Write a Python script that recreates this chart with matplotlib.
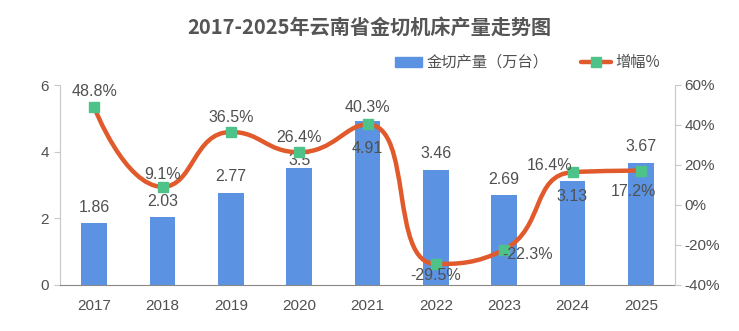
import numpy as np
import matplotlib.pyplot as plt
from matplotlib.path import Path
from matplotlib.patches import PathPatch

plt.rcParams['font.family'] = ['Liberation Sans', 'Noto Sans CJK SC', 'DejaVu Sans']

years = ['2017', '2018', '2019', '2020', '2021', '2022', '2023', '2024', '2025']
output = [1.86, 2.03, 2.77, 3.5, 4.91, 3.46, 2.69, 3.13, 3.67]
growth = [48.8, 9.1, 36.5, 26.4, 40.3, -29.5, -22.3, 16.4, 17.2]

# label offsets in pixels (dx, dy), picked to match the reference layout
bar_lbl_off = [16, 16, 16, 8, -27, 16, 16, -16, 16]
line_lbl_off = [(0, 16), (0, 12), (0, 14), (0, 15), (0, 17), (0, -12), (23, -5), (-23, 7), (-7, -21)]

BLUE = '#5B93E2'
RED = '#E05A2C'
GREEN = '#4EC389'
TXT = '#505050'
CJK = ['Noto Sans CJK SC', 'DejaVu Sans']


def clamp(v, a, b):
    return min(max(v, min(a, b)), max(a, b))


def smooth_path(xs, ys, yscale, smooth=0.5):
    # bezier smoothing with the same clamping rules echarts uses (in pixel-like units)
    px = list(xs)
    py = [v * yscale for v in ys]
    n = len(px)
    verts = [(px[0], py[0])]
    codes = [Path.MOVETO]
    cx0, cy0 = px[0], py[0]
    for i in range(1, n):
        x, y = px[i], py[i]
        prx, pry = px[i - 1], py[i - 1]
        if i == n - 1:
            cx1, cy1 = x, y
            ncx, ncy = x, y
        else:
            nx, ny = px[i + 1], py[i + 1]
            vx, vy = nx - prx, ny - pry
            lp = np.hypot(x - prx, y - pry)
            ln = np.hypot(nx - x, ny - y)
            r = ln / (ln + lp)
            ncx = clamp(x + vx * smooth * r, nx, x)
            ncy = clamp(y + vy * smooth * r, ny, y)
            vx, vy = ncx - x, ncy - y
            cx1 = clamp(x - vx * lp / ln, prx, x)
            cy1 = clamp(y - vy * lp / ln, pry, y)
            vx, vy = x - cx1, y - cy1
            ncx = x + vx * ln / lp
            ncy = y + vy * ln / lp
        verts += [(cx0, cy0), (cx1, cy1), (x, y)]
        codes += [Path.CURVE4] * 3
        cx0, cy0 = ncx, ncy
    verts = np.array(verts, dtype=float)
    verts[:, 1] /= yscale
    return Path(verts, codes)


fig = plt.figure(figsize=(7.39, 3.31), dpi=100)
ax = fig.add_axes([60 / 739, 46 / 331, 615 / 739, 200 / 331])
ax2 = ax.twinx()

x = np.arange(len(years))
ax.bar(x, output, width=0.38, color=BLUE, zorder=2)
ax.set_xlim(-0.5, len(years) - 0.5)
ax.set_ylim(0, 6)
ax.set_yticks([0, 2, 4, 6])
ax.set_xticks(x)
ax.set_xticklabels(years)
ax.tick_params(axis='x', length=0, pad=10, labelsize=11, labelcolor=TXT)
ax.tick_params(axis='y', length=4, color='#c8c8c8', pad=4, labelsize=11, labelcolor=TXT)
for sp in ['top', 'right']:
    ax.spines[sp].set_visible(False)
ax.spines['left'].set_color('#c8c8c8')
ax.spines['bottom'].set_color('#888888')

ax2.set_ylim(-40, 60)
ax2.set_yticks([-40, -20, 0, 20, 40, 60])
ax2.set_yticklabels([f'{v}%' for v in [-40, -20, 0, 20, 40, 60]])
ax2.tick_params(axis='y', length=4, color='#c8c8c8', pad=3, labelsize=11, labelcolor=TXT)
for sp in ['top', 'left', 'bottom']:
    ax2.spines[sp].set_visible(False)
ax2.spines['right'].set_color('#c8c8c8')

yscale = 2.0 / 68.33
path = smooth_path(x.astype(float), growth, yscale)
ax2.add_patch(PathPatch(path, fill=False, edgecolor=RED, lw=3.2, capstyle='round', zorder=3))
ax2.plot(x, growth, ls='none', marker='s', ms=6.5, mfc=GREEN, mec=GREEN, zorder=4)

k = 0.72
for i, v in enumerate(output):
    ax.annotate(f'{v:g}', (x[i], v), xytext=(0, bar_lbl_off[i] * k), textcoords='offset points',
                ha='center', va='center', fontsize=11.5, color=TXT, zorder=5)
for i, v in enumerate(growth):
    dx, dy = line_lbl_off[i]
    ax2.annotate(f'{v}%', (x[i], v), xytext=(dx * k, dy * k), textcoords='offset points',
                 ha='center', va='center', fontsize=11.5, color=TXT, zorder=5)

fig.text(0.5, 1 - 27 / 331, '2017-2025年云南省金切机床产量走势图', ha='center', va='center',
         fontsize=14.5, fontweight='bold', color='#555555', family=CJK)

# legend
ly = 1 - 62 / 331
fig.patches.append(plt.Rectangle((395 / 739, 1 - 67 / 331), 27 / 739, 10 / 331, transform=fig.transFigure,
                                 color=BLUE, figure=fig))
fig.text(427 / 739, ly, '金切产量（万台）', ha='left', va='center', fontsize=11, color=TXT, family=CJK)
fig.lines.append(plt.Line2D([581 / 739, 611 / 739], [ly, ly], transform=fig.transFigure, color=RED, lw=3.2,
                            solid_capstyle='round', figure=fig))
fig.lines.append(plt.Line2D([596 / 739], [ly], transform=fig.transFigure, ls='none', marker='s', ms=6.5,
                            mfc=GREEN, mec=GREEN, figure=fig))
fig.text(615 / 739, ly, '增幅%', ha='left', va='center', fontsize=11, color=TXT, family=CJK)

fig.savefig('out.png', dpi=100)
